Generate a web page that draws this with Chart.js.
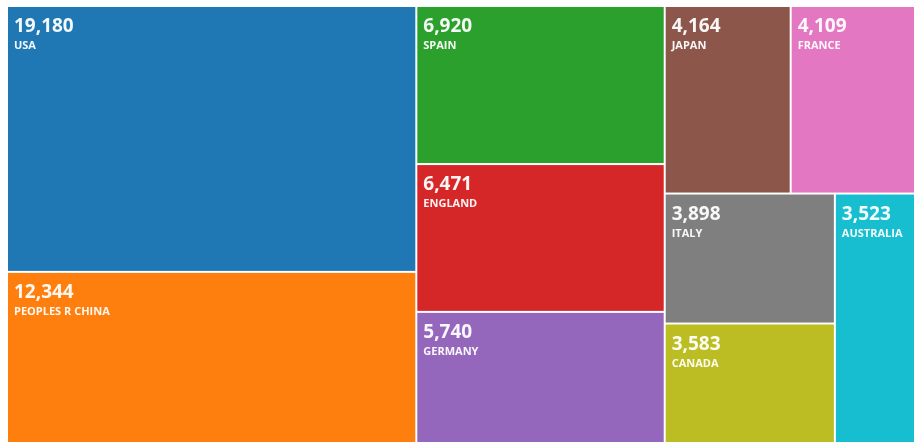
<!DOCTYPE html>
<html>
<head>
<meta charset="utf-8">
<script src="https://cdn.jsdelivr.net/npm/chart.js@4.4.0/dist/chart.umd.min.js"></script>
<style>
    html, body { margin: 0; padding: 0; background: #fff; }
    #wrap { width: 915px; height: 443px; }
</style>
</head>
<body>
<div id="wrap"><canvas id="chart"></canvas></div>
<script>
// Records per country
const countries = ['USA', 'PEOPLES R CHINA', 'SPAIN', 'ENGLAND', 'GERMANY', 'JAPAN', 'FRANCE', 'ITALY', 'CANADA', 'AUSTRALIA'];
const records = [19180, 12344, 6920, 6471, 5740, 4164, 4109, 3898, 3583, 3523];
const colors = ['#1f77b4', '#ff7f0e', '#2ca02c', '#d62728', '#9467bd', '#8c564b', '#e377c2', '#7f7f7f', '#bcbd22', '#17becf'];

// How the boxes are grouped: 'h' puts children side by side, 'v' stacks them
const groups = ['h', ['v', 0, 1], ['v', 2, 3, 4], ['v', ['h', 5, 6], ['h', ['v', 7, 8], 9]]];

function groupSum(node) {
    if (typeof node === 'number') return records[node];
    return node.slice(1).reduce((s, n) => s + groupSum(n), 0);
}

// slice and dice layout, in scale units (0..1 both ways)
function layout(node, x0, y0, x1, y1, out) {
    if (typeof node === 'number') {
        out.push({ i: node, x0: x0, y0: y0, x1: x1, y1: y1 });
        return out;
    }
    const dir = node[0];
    const kids = node.slice(1);
    const total = groupSum(node);
    let pos = dir === 'h' ? x0 : y0;
    kids.forEach(k => {
        const share = groupSum(k) / total;
        if (dir === 'h') {
            const w = (x1 - x0) * share;
            layout(k, pos, y0, pos + w, y1, out);
            pos += w;
        } else {
            const h = (y1 - y0) * share;
            layout(k, x0, pos, x1, pos + h, out);
            pos += h;
        }
    });
    return out;
}

const cells = layout(groups, 0, 0, 1, 1, []);

// draws the boxes through the chart's x / y scales
const treemapPlugin = {
    id: 'treemap',
    afterDatasetsDraw(chart) {
        const ctx = chart.ctx;
        const xs = chart.scales.x;
        const ys = chart.scales.y;
        ctx.save();
        cells.forEach(c => {
            const left = xs.getPixelForValue(c.x0) + 1;
            const right = xs.getPixelForValue(c.x1) - 1;
            const top = ys.getPixelForValue(c.y0) + 1;
            const bottom = ys.getPixelForValue(c.y1) - 1;
            ctx.fillStyle = colors[c.i];
            ctx.fillRect(left, top, right - left, bottom - top);

            ctx.fillStyle = 'rgba(255,255,255,0.95)';
            ctx.textAlign = 'left';
            ctx.textBaseline = 'alphabetic';
            ctx.font = 'bold 19px "Open Sans", "DejaVu Sans", sans-serif';
            ctx.fillText(records[c.i].toLocaleString('en-US'), left + 6, top + 25);
            ctx.font = 'bold 11px "Open Sans", "DejaVu Sans", sans-serif';
            ctx.fillText(countries[c.i], left + 6, top + 42);
        });
        ctx.restore();
    }
};

new Chart(document.getElementById('chart'), {
    type: 'scatter',
    data: {
        datasets: [{ data: [] }]
    },
    options: {
        responsive: true,
        maintainAspectRatio: false,
        animation: false,
        layout: { padding: { left: 7, top: 6, right: 0, bottom: 0 } },
        scales: {
            x: { type: 'linear', min: 0, max: 1, display: false },
            y: { type: 'linear', min: 0, max: 1, reverse: true, display: false }
        },
        plugins: {
            legend: { display: false },
            tooltip: { enabled: false }
        }
    },
    plugins: [treemapPlugin]
});
</script>
</body>
</html>
